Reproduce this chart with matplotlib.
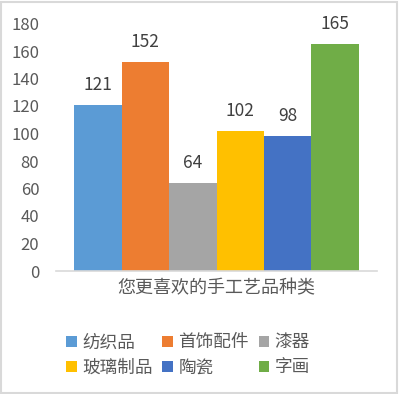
import matplotlib.pyplot as plt
from matplotlib.patches import Rectangle

plt.rcParams['font.family'] = ['Noto Sans CJK SC', 'DejaVu Sans']

# Data
categories = ['纺织品', '首饰配件', '漆器', '玻璃制品', '陶瓷', '字画']
values = [121, 152, 64, 102, 98, 165]
colors = ['#5B9BD5', '#ED7D31', '#A5A5A5', '#FFC000', '#4472C4', '#70AD47']
yticks = [0, 20, 40, 60, 80, 100, 120, 140, 160, 180]
xlabel = '您更喜欢的手工艺品种类'

W, H = 399, 394
fig = plt.figure(figsize=(W / 100, H / 100), dpi=100)
fig.patch.set_facecolor('white')

# border around the chart area
fig.patches.append(Rectangle((1 / W, 1 / H), 1 - 3 / W, 1 - 3 / H, transform=fig.transFigure,
                             fill=False, edgecolor='#D9D9D9', linewidth=1.5))

ax = fig.add_axes([56 / W, 1 - 271 / H, (377 - 56) / W, (271 - 23.5) / H])

bars = []
for i, (cat, v, c) in enumerate(zip(categories, values, colors)):
    b = ax.bar(i, v, width=1.0, color=c, label=cat)
    bars.append(b)
    ax.bar_label(b, labels=[str(v)], padding=8, fontsize=12.5, color='#404040')

ax.set_xlim(-0.879, 5.879)
ax.set_ylim(0, 180)
ax.set_yticks(yticks)
ax.set_yticklabels([str(t) for t in yticks], fontsize=12, color='#595959')
ax.tick_params(axis='y', length=0, pad=12)
ax.set_xticks([])
for s in ['top', 'right', 'left']:
    ax.spines[s].set_visible(False)
ax.spines['bottom'].set_color('#D9D9D9')
ax.spines['bottom'].set_linewidth(1.2)
ax.set_xlabel(xlabel, fontsize=13, color='#595959', labelpad=6)

# legend filled row-wise
order = [0, 3, 1, 4, 2, 5]
handles = [bars[i] for i in order]
labels = [categories[i] for i in order]
leg = fig.legend(handles, labels, ncol=3, loc='upper left',
                 bbox_to_anchor=(54 / W, 1 - 321 / H), frameon=False,
                 fontsize=12.7, handlelength=0.6, handleheight=0.6,
                 handletextpad=0.3, columnspacing=0.55, labelspacing=0.4,
                 borderpad=0.2)
for t in leg.get_texts():
    t.set_color('#595959')

fig.savefig('out.png', dpi=100)
